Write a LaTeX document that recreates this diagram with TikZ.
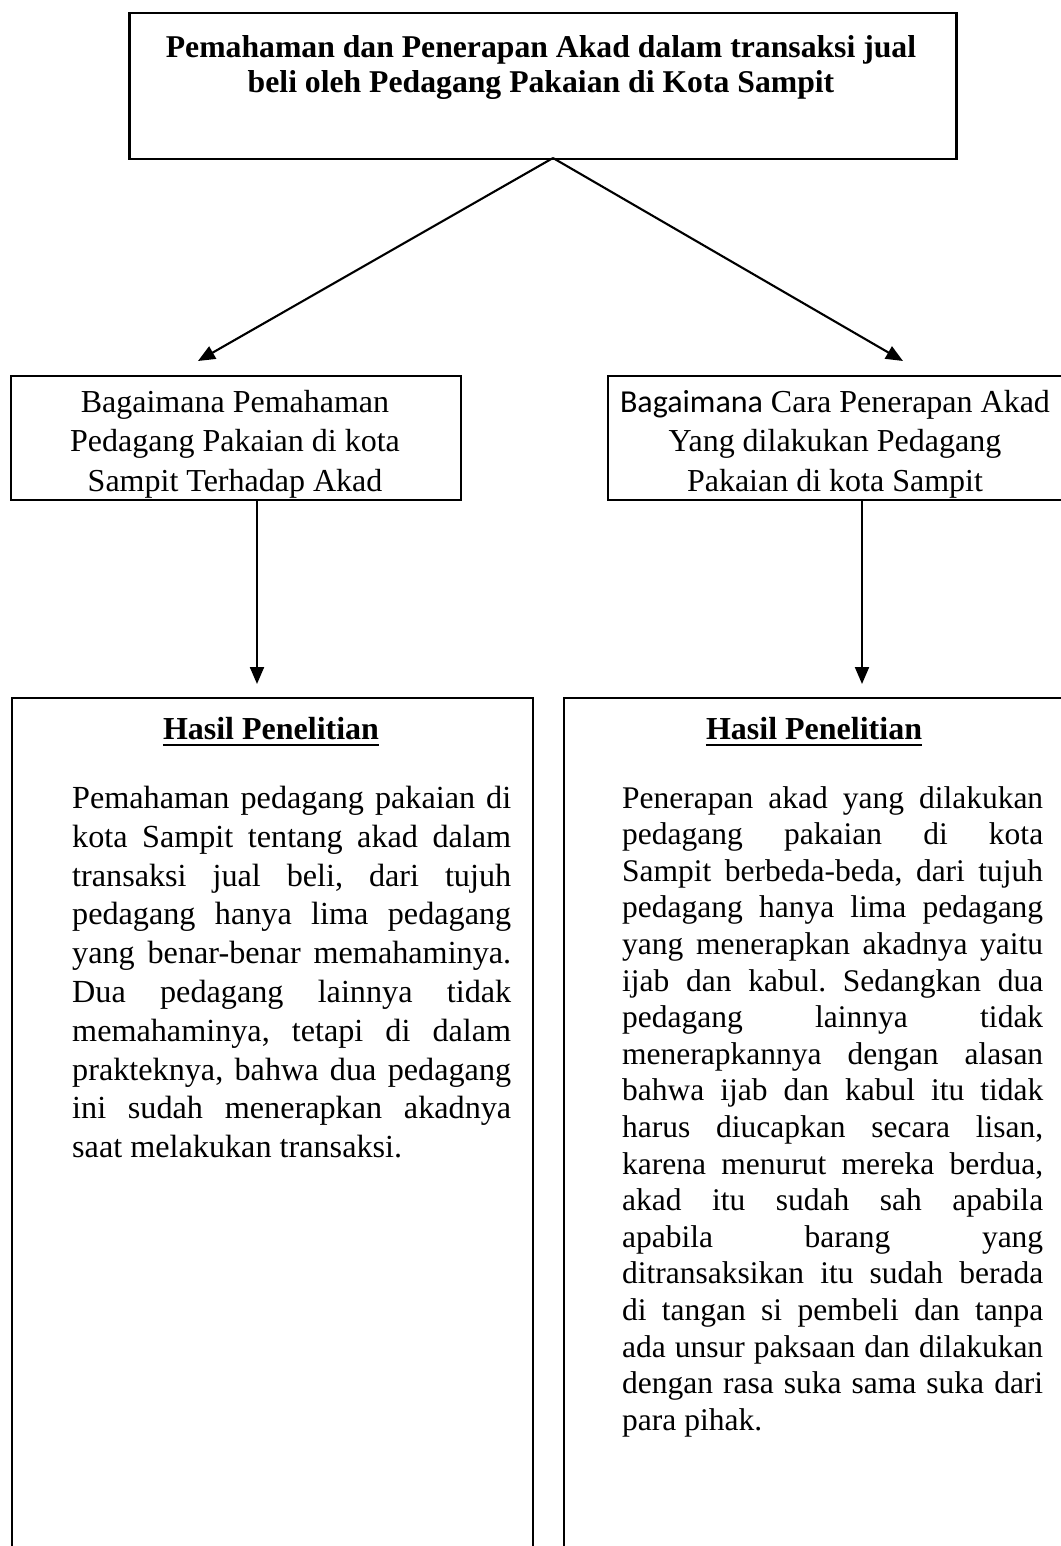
\documentclass[tikz,border=0pt]{standalone}
\usepackage{fontspec}
\setmainfont{Liberation Serif}
\newfontfamily\calib{Carlito}
\usetikzlibrary{arrows.meta}
\frenchspacing
\begin{document}
\frenchspacing
\begin{tikzpicture}[x=1pt,y=-1pt,
  box/.style={draw, line width=2.1pt, inner sep=0pt, anchor=north west},
  arr/.style={line width=2.1pt, -{Triangle[length=17pt,width=14pt]}},
  plain/.style={inner sep=0pt, align=center},
  head/.style={inner sep=0pt, font=\bfseries\fontsize{32}{38}\selectfont},
]
\useasboundingbox (0,0) rectangle (1060,1546);
\fill[white] (0,0) rectangle (1060,1546);

% top box
\node[box, line width=2.5pt, minimum width=827pt, minimum height=146pt] (top) at (128,12) {};
\node[plain, anchor=north, font=\bfseries\fontsize{31.7}{35.5}\selectfont] (toptext) at (541,35)
  {Pemahaman dan Penerapan Akad dalam transaksi jual\\beli oleh Pedagang Pakaian di Kota Sampit};

% middle boxes
\node[box, minimum width=450pt, minimum height=124pt] (ml) at (10,375) {};
\node[plain, anchor=north, font=\fontsize{32}{39.5}\selectfont] (mltext) at (235,390)
  {Bagaimana Pemahaman\\Pedagang Pakaian di kota\\Sampit Terhadap Akad};
\node[box, minimum width=460pt, minimum height=124pt] (mr) at (607,375) {};
\node[plain, anchor=north, font=\fontsize{32}{39.5}\selectfont] (mrtext) at (835,390)
  {{\calib Bagaimana} Cara Penerapan Akad\\Yang dilakukan Pedagang\\Pakaian di kota Sampit};

% connectors top -> middle
\coordinate (apex) at (553,158);
\coordinate (tipL) at (198,361);
\coordinate (tipR) at (903,361);
\draw[arr] (apex) -- (tipL);
\draw[arr] (apex) -- (tipR);

% connectors middle -> bottom
\coordinate (vL) at (257,684);
\coordinate (vR) at (862,684);
\draw[arr] (ml.south -| vL) -- (vL);
\draw[arr] (mr.south -| vR) -- (vR);

% bottom boxes (run past the lower edge)
\node[box, minimum width=521pt, minimum height=900pt] (bl) at (11,697) {};
\node[box, minimum width=505pt, minimum height=900pt] (br) at (563,697) {};

\node[head, anchor=base] (hl) at (271,739) {Hasil Penelitian};
\draw[line width=2.6pt] ([yshift=-6pt]hl.base west) -- ([yshift=-6pt]hl.base east);
\node[head, anchor=base] (hr) at (814,739) {Hasil Penelitian};
\draw[line width=2.6pt] ([yshift=-6pt]hr.base west) -- ([yshift=-6pt]hr.base east);

\node[inner sep=0pt, anchor=north west, text width=439pt, align=justify,
      font=\fontsize{32.2}{38.8}\selectfont] (pl) at (72,786)
{Pemahaman pedagang pakaian di\linebreak
kota Sampit tentang akad dalam\linebreak
transaksi jual beli, dari tujuh\linebreak
pedagang hanya lima pedagang\linebreak
yang benar-benar memahaminya.\linebreak
Dua pedagang lainnya tidak\linebreak
memahaminya, tetapi di dalam\linebreak
prakteknya, bahwa dua pedagang\linebreak
ini sudah menerapkan akadnya\linebreak
saat melakukan transaksi.};

\node[inner sep=0pt, anchor=north west, text width=421pt, align=justify,
      font=\fontsize{31.5}{36.6}\selectfont] (pr) at (622,786)
{Penerapan akad yang dilakukan\linebreak
pedagang pakaian di kota\linebreak
Sampit berbeda-beda, dari tujuh\linebreak
pedagang hanya lima pedagang\linebreak
yang menerapkan akadnya yaitu\linebreak
ijab dan kabul. Sedangkan dua\linebreak
pedagang lainnya tidak\linebreak
menerapkannya dengan alasan\linebreak
bahwa ijab dan kabul itu tidak\linebreak
harus diucapkan secara lisan,\linebreak
karena menurut mereka berdua,\linebreak
akad itu sudah sah apabila\linebreak
apabila barang yang\linebreak
ditransaksikan itu sudah berada\linebreak
di tangan si pembeli dan tanpa\linebreak
ada unsur paksaan dan dilakukan\linebreak
dengan rasa suka sama suka dari\linebreak
para pihak.};
\end{tikzpicture}
\end{document}
